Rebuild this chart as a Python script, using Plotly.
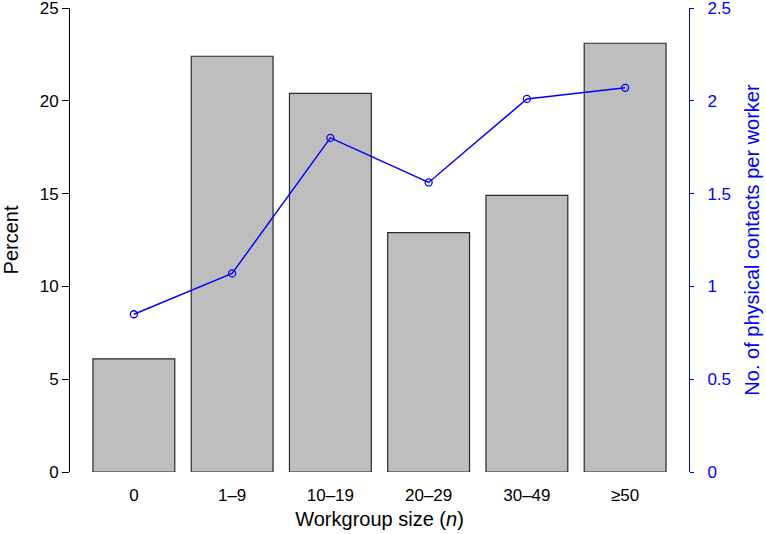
import plotly.graph_objects as go

# workgroup size categories
groups = ['0', '1\u20139', '10\u201319', '20\u201329', '30\u201349', '\u226550']
# share of workers in each group (%)
percent = [6.1, 22.4, 20.4, 12.9, 14.9, 23.1]
# mean physical contacts per worker
contacts = [0.85, 1.07, 1.80, 1.56, 2.01, 2.07]

FONT = 'Liberation Sans, Arial, Helvetica, sans-serif'
BLUE = '#0000FF'

fig = go.Figure()

fig.add_trace(go.Bar(
    x=groups, y=percent,
    marker=dict(color='#BEBEBE', line=dict(color='#2a2a2a', width=1.2)),
    yaxis='y', showlegend=False,
))

fig.add_trace(go.Scatter(
    x=groups, y=contacts, mode='lines+markers',
    line=dict(color=BLUE, width=1.4),
    marker=dict(symbol='circle-open', size=7, color=BLUE, line=dict(width=1.3)),
    yaxis='y2', showlegend=False,
))

fig.update_layout(
    width=766, height=534,
    margin=dict(l=70, r=77, t=8, b=62, autoexpand=False),
    plot_bgcolor='white', paper_bgcolor='white',
    font=dict(family=FONT, size=17, color='black'),
    bargap=0.167,
    xaxis=dict(
        range=[-0.65, 5.65], showline=False, ticks='', showgrid=False,
        zeroline=False, ticklabelstandoff=11, automargin=False,
        title=dict(text='Workgroup size (<i>n</i>)', standoff=7),
    ),
    yaxis=dict(
        range=[0, 25], tickvals=[0, 5, 10, 15, 20, 25],
        showline=True, linecolor='black', linewidth=1,
        ticks='outside', ticklen=7, tickcolor='black',
        showgrid=False, zeroline=False, automargin=False,
        ticklabeloverflow='allow',
        title=dict(text='Percent', standoff=20),
    ),
    yaxis2=dict(
        range=[0, 2.5], tickvals=[0, 0.5, 1, 1.5, 2, 2.5],
        ticktext=['0', '0.5', '1', '1.5', '2', '2.5'],
        overlaying='y', side='right',
        showline=True, linecolor=BLUE, linewidth=1,
        ticks='outside', ticklen=4, tickcolor=BLUE,
        tickfont=dict(color=BLUE), showgrid=False, zeroline=False,
        automargin=False, ticklabeloverflow='allow',
        ticklabelstandoff=10,
        title=dict(text='No. of physical contacts per worker',
                   font=dict(color=BLUE), standoff=14),
    ),
)

# page body has a default 8px margin; drop it so the figure sits at 0,0
fig.write_html("out.html", config={'displayModeBar': False},
               post_script="document.body.style.margin='0';")
